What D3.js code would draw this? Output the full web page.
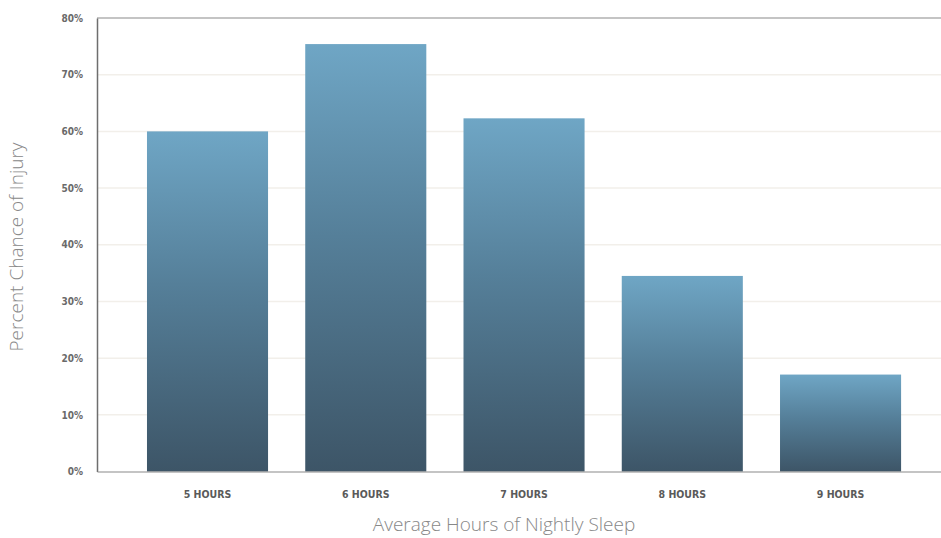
<!DOCTYPE html>
<html>
<head>
<meta charset="utf-8">
<script src="https://cdn.jsdelivr.net/npm/d3@7"></script>
<style>
  html, body { margin: 0; padding: 0; background: #fff; }
  svg { display: block; }
</style>
</head>
<body>
<svg id="chart" width="941" height="538"></svg>
<script>
// Injury chance by average nightly sleep
const categories = ["5 HOURS", "6 HOURS", "7 HOURS", "8 HOURS", "9 HOURS"];
const injuryPct = [60, 75.4, 62.3, 34.5, 17.1];
const yTicks = [0, 10, 20, 30, 40, 50, 60, 70, 80];

const svg = d3.select("#chart");
const plotLeft = 97, plotRight = 941, plotTop = 18, plotBottom = 471.5;

const x = d3.scaleBand()
  .domain(categories)
  .range([plotLeft, plotRight])
  .paddingInner(0.235)
  .paddingOuter(0.284)
  .align(0.556);

const y = d3.scaleLinear().domain([0, 80]).range([plotBottom, plotTop]);

// vertical gradient applied per bar
const defs = svg.append("defs");
const grad = defs.append("linearGradient")
  .attr("id", "barGrad")
  .attr("x1", 0).attr("y1", 0).attr("x2", 0).attr("y2", 1);
grad.append("stop").attr("offset", "0%").attr("stop-color", "#6fa6c5");
grad.append("stop").attr("offset", "45%").attr("stop-color", "#557f99");
grad.append("stop").attr("offset", "100%").attr("stop-color", "#3d5567");

const shadow = defs.append("filter").attr("id", "lineShadow")
  .attr("x", "-5%").attr("y", "-200%").attr("width", "110%").attr("height", "500%");
shadow.append("feGaussianBlur").attr("stdDeviation", 1.2);

// faint gridlines
svg.append("g")
  .selectAll("line")
  .data(yTicks.filter(d => d > 0 && d < 80))
  .join("line")
  .attr("x1", plotLeft).attr("x2", plotRight)
  .attr("y1", d => y(d)).attr("y2", d => y(d))
  .attr("stroke", "#f2efea")
  .attr("stroke-width", 1.5);

// bars
svg.append("g")
  .selectAll("rect")
  .data(injuryPct)
  .join("rect")
  .attr("x", (d, i) => x(categories[i]))
  .attr("width", x.bandwidth())
  .attr("y", d => y(d))
  .attr("height", d => y(0) - y(d))
  .attr("fill", "url(#barGrad)");

// top frame line with soft shadow
svg.append("line")
  .attr("x1", plotLeft).attr("x2", plotRight)
  .attr("y1", y(80) + 1).attr("y2", y(80) + 1)
  .attr("stroke", "#bbb").attr("stroke-width", 2)
  .attr("filter", "url(#lineShadow)");
svg.append("line")
  .attr("x1", plotLeft).attr("x2", plotRight)
  .attr("y1", y(80)).attr("y2", y(80))
  .attr("stroke", "#8a8a8a").attr("stroke-width", 1.2);

// y axis
const yAxis = svg.append("g")
  .attr("transform", `translate(${plotLeft},0)`)
  .call(d3.axisLeft(y).tickValues(yTicks).tickFormat(d => d + "%").tickSize(0).tickPadding(14));
yAxis.select(".domain").attr("stroke", "#6e6e6e").attr("stroke-width", 1.5);
yAxis.selectAll("text")
  .attr("fill", "#6a6a6a")
  .style("font-family", "'DejaVu Sans', sans-serif")
  .style("font-stretch", "condensed")
  .style("font-weight", "bold")
  .style("font-size", "10px");

// x axis
const xAxis = svg.append("g")
  .attr("transform", `translate(0,${plotBottom})`)
  .call(d3.axisBottom(x).tickSize(0).tickPadding(19));
xAxis.select(".domain").attr("stroke", "#8a8a8a").attr("stroke-width", 1.2);
xAxis.selectAll("text")
  .attr("fill", "#5a5a5a")
  .style("font-family", "'DejaVu Sans', sans-serif")
  .style("font-stretch", "condensed")
  .style("font-weight", "bold")
  .style("font-size", "10.5px");

// axis titles
svg.append("text")
  .attr("x", 504).attr("y", 531)
  .attr("text-anchor", "middle")
  .attr("fill", "#888")
  .style("font-family", "'Open Sans', sans-serif")
  .style("font-weight", "300")
  .style("font-size", "19px")
  .text("Average Hours of Nightly Sleep");

svg.append("text")
  .attr("transform", "translate(23,247) rotate(-90)")
  .attr("text-anchor", "middle")
  .attr("fill", "#888")
  .style("font-family", "'Open Sans', sans-serif")
  .style("font-weight", "300")
  .style("font-size", "19px")
  .text("Percent Chance of Injury");
</script>
</body>
</html>
